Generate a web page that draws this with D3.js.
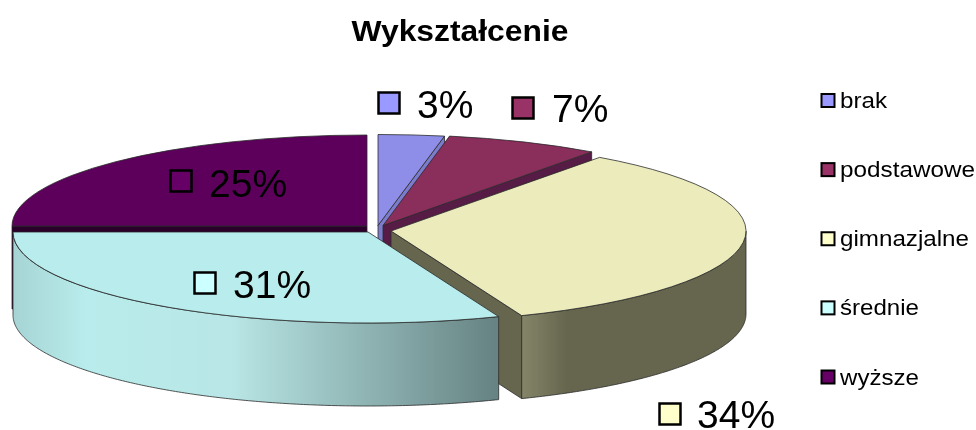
<!DOCTYPE html>
<html><head><meta charset="utf-8">
<script src="https://cdn.jsdelivr.net/npm/d3@7"></script>
<style>html,body{margin:0;padding:0;background:#fff}svg{display:block}text{font-family:"Liberation Sans",Arial,sans-serif;fill:#000}</style>
</head><body><div id="c"></div>
<script>
const title = "Wykształcenie";
const categories = ["brak","podstawowe","gimnazjalne","średnie","wyższe"];
const values = [3,7,34,31,25];
const labelColors = ["#9999ff","#993366","#ffffcc","#ccffff","#660066"];
const faceColors = ["#8e8ee9","#8a2d5c","#ebebbc","#b9ecec","#5c005c"];
const cutColors = ["#7c7ccc","#571c44","#66664f","#7a9a9a","#2c002c"];
const wallStops = [
  [["#7c7ccc",0],["#7c7ccc",1]],
  [["#571c44",0],["#571c44",1]],
  [["#858569",0],["#66664f",0.2],["#66664f",1]],
  [["#a6d4d4",0],["#b9ecec",0.15],["#b9e6e6",0.45],["#668282",1]],
  [["#3a003a",0],["#3a003a",1]]
];
// layout
const W=976,H=430,RX=355,RY=91,DEPTH=83;
const centers=[[378,225.5],[383,225.5],[391,231],[368,232],[367,226]];
const labelPos=[[389,103,417,118],[523,108,552,122],[670,414,697,428],[205,283,233,298],[181,181,209,197]];

const svg=d3.select("#c").append("svg").attr("width",W).attr("height",H);
const defs=svg.append("defs");
defs.append("filter").attr("id","soft").attr("x",0).attr("y",0).attr("width","100%").attr("height","100%")
  .append("feGaussianBlur").attr("stdDeviation",0.45);
const root=svg.append("g").attr("filter","url(#soft)");
root.append("rect").attr("width",W).attr("height",H).attr("fill","#fff");
const pie=d3.pie().sort(null).value(d=>d);
const arcs=pie(values);
const arcGen=d3.arc().innerRadius(0).outerRadius(RX);
const px=(c,a)=>c[0]+RX*Math.sin(a), py=(c,a)=>c[1]-RY*Math.cos(a);
const HALF=Math.PI/2, EDGE="#2b2b2b";

arcs.forEach((d,i)=>{
  const c=centers[i];
  const g=defs.append("linearGradient").attr("id","w"+i).attr("gradientUnits","userSpaceOnUse");
  const a0=Math.max(d.startAngle,HALF),a1=Math.min(d.endAngle,3*HALF);
  const xs=[px(c,a0),px(c,a1),px(c,Math.PI)].filter(Number.isFinite);
  g.attr("x1",d3.max(xs)).attr("x2",d3.min(xs)).attr("y1",0).attr("y2",0);
  if(i===2){g.attr("x1",d3.min([px(c,a1)])).attr("x2",px(c,a0));}
  if(i===3){g.attr("x1",px(c,3*HALF)).attr("x2",px(c,d.startAngle));}
  wallStops[i].forEach(s=>g.append("stop").attr("offset",s[1]).attr("stop-color",s[0]));
});

const line=d3.line();
const order=[4,0,1,2,3];
const chart=root.append("g").attr("stroke-linejoin","round");
order.forEach(i=>{
  const d=arcs[i],c=centers[i],g=chart.append("g");
  const quad=(a)=>[[c[0],c[1]],[px(c,a),py(c,a)],[px(c,a),py(c,a)+DEPTH],[c[0],c[1]+DEPTH]];
  if(d.endAngle<Math.PI) g.append("path").attr("d",line(quad(d.endAngle))+"Z").attr("fill",cutColors[i]).attr("stroke",EDGE).attr("stroke-width",.8);
  if(d.startAngle>=Math.PI) g.append("path").attr("d",line(quad(d.startAngle))+"Z").attr("fill",cutColors[i]).attr("stroke",EDGE).attr("stroke-width",.8);
  const a0=Math.max(d.startAngle,HALF),a1=Math.min(d.endAngle,3*HALF);
  if(a1>a0){
    const angs=d3.range(a0,a1,0.01).concat([a1]);
    const top=angs.map(a=>[px(c,a),py(c,a)]);
    const bot=angs.slice().reverse().map(a=>[px(c,a),py(c,a)+DEPTH]);
    g.append("path").attr("d",line(top.concat(bot))+"Z").attr("fill",`url(#w${i})`).attr("stroke",EDGE).attr("stroke-width",.8);
  }
  g.append("path").attr("d",arcGen(d))
    .attr("transform",`translate(${c[0]},${c[1]}) scale(1,${RY/RX})`)
    .attr("fill",faceColors[i]).attr("stroke",EDGE).attr("stroke-width",.8)
    .attr("vector-effect","non-scaling-stroke");
});

// title
root.append("text").attr("x",460).attr("y",41).attr("text-anchor","middle")
  .attr("font-size",30).attr("font-weight","bold").text(title)
  .attr("textLength",217).attr("lengthAdjust","spacingAndGlyphs");

// data labels
values.forEach((v,i)=>{
  const p=labelPos[i];
  root.append("rect").attr("x",p[0]-10.5).attr("y",p[1]-10.5).attr("width",21).attr("height",21)
    .attr("fill",labelColors[i]).attr("stroke","#000").attr("stroke-width",2.5);
  root.append("text").attr("x",p[2]).attr("y",p[3]).attr("font-size",39).text(v+"%");
});

// legend
const ly=d3.scalePoint().domain(categories).range([100.5,377]);
const lw={"brak":47,"podstawowe":135,"gimnazjalne":129,"średnie":79,"wyższe":79};
categories.forEach((n,i)=>{
  root.append("rect").attr("x",821.5).attr("y",ly(n)-6.5).attr("width",13).attr("height",13)
    .attr("fill",labelColors[i]).attr("stroke","#000").attr("stroke-width",2);
  root.append("text").attr("x",840).attr("y",ly(n)+7.5).attr("font-size",22).text(n)
    .attr("textLength",lw[n]).attr("lengthAdjust","spacingAndGlyphs");
});
</script></body></html>
